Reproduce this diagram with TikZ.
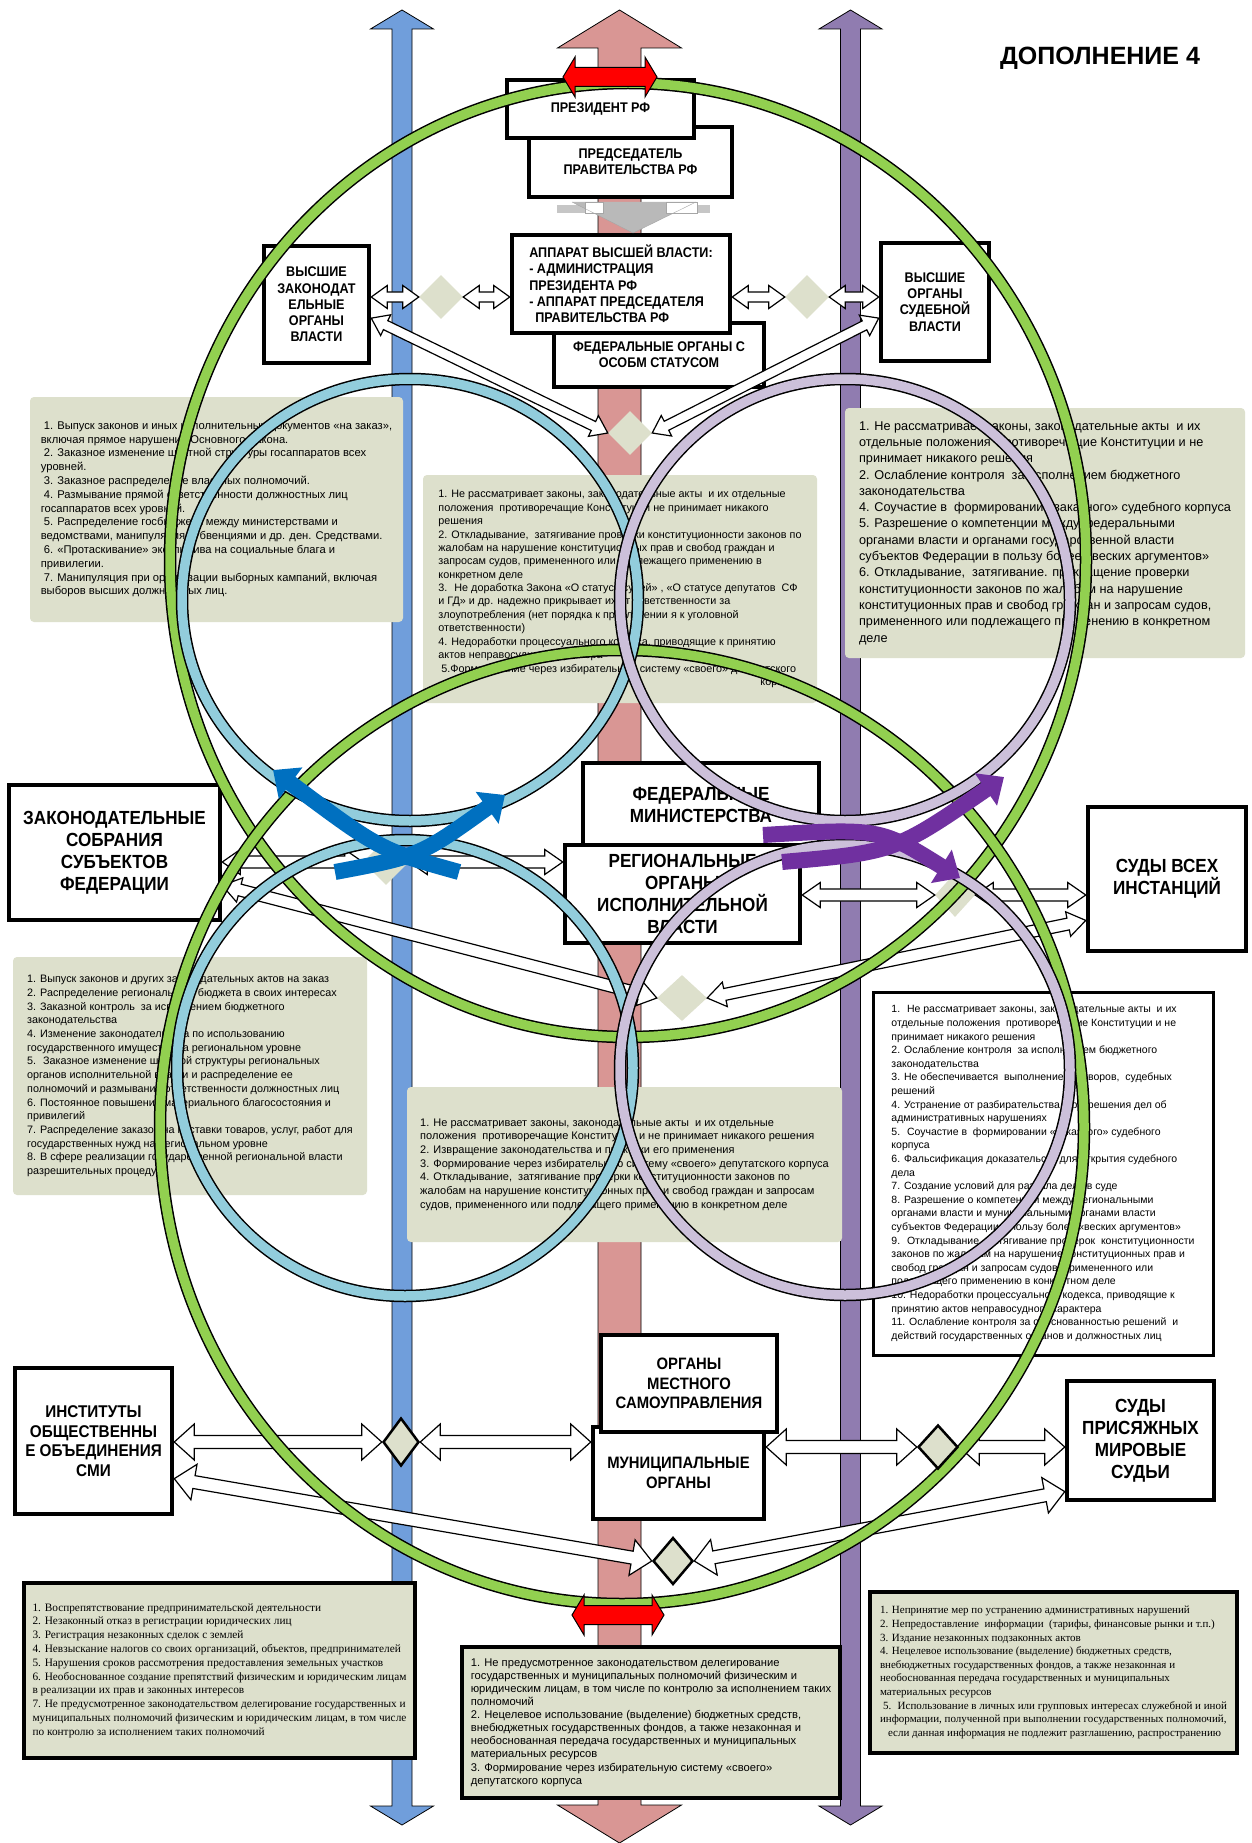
\documentclass[tikz,border=0pt]{standalone}
\usepackage{fontspec}
\setmainfont{Liberation Sans}
\newfontfamily\narrowfont[FakeStretch=0.9]{Liberation Sans}
\newfontfamily\timesfont{Liberation Serif}
\usepackage{xcolor}
\usepackage{tikz}
\usetikzlibrary{shapes, calc, arrows.meta}

\definecolor{shaftblue}{RGB}{112,158,219}
\definecolor{shaftpink}{RGB}{217,150,148}
\definecolor{shaftviolet}{RGB}{144,124,176}
\definecolor{ringgreen}{RGB}{146,208,80}
\definecolor{ringblue}{RGB}{146,205,220}
\definecolor{ringlav}{RGB}{204,192,218}
\definecolor{boxgreen}{RGB}{221,224,204}
\definecolor{bentblue}{RGB}{0,112,192}
\definecolor{bentviolet}{RGB}{112,48,160}

\pgfdeclarelayer{back}
\pgfdeclarelayer{rings}
\pgfdeclarelayer{front}
\pgfsetlayers{back,main,rings,front}

\newcommand\dblarrow[6]{%
        \coordinate (dbS) at (#2);
        \coordinate (dbE) at (#3);
        \coordinate (dbA) at ($(dbS)!#4!(dbE)$);
        \coordinate (dbB) at ($(dbE)!#4!(dbS)$);
        \draw[#1] (dbS) -- ($(dbA)!#6!90:(dbE)$) -- ($(dbA)!#5!90:(dbE)$)
        -- ($(dbB)!#5!-90:(dbS)$) -- ($(dbB)!#6!-90:(dbS)$) -- (dbE)
        -- ($(dbB)!#6!90:(dbS)$) -- ($(dbB)!#5!90:(dbS)$)
        -- ($(dbA)!#5!-90:(dbE)$) -- ($(dbA)!#6!-90:(dbE)$) -- cycle;}

\newcommand\drawring[4]{%
        \draw[line width=12.5pt] #2 ellipse [x radius=#3pt, y radius=#4pt];
        \draw[#1, line width=9.5pt] #2 ellipse [x radius=#3pt, y radius=#4pt];}

\begin{document}
\begin{tikzpicture}[x=1pt, y=-1pt,
        lbl/.style={draw, line width=4.5pt, fill=white, align=center, inner sep=0pt, font=\narrowfont\bfseries\fontsize{14}{16.3}\selectfont},
        midlbl/.style={lbl, font=\narrowfont\bfseries\fontsize{16.5}{19.3}\selectfont},
        biglbl/.style={lbl, font=\narrowfont\bfseries\fontsize{19}{22}\selectfont},
        infobox/.style={fill=boxgreen, rounded corners=4pt, align=left, inner sep=0pt},
        darkbox/.style={infobox, draw, line width=4.5pt, rounded corners=0pt},
        whitebox/.style={darkbox, fill=white, line width=3pt},
        pale/.style={diamond, fill=boxgreen, inner sep=0pt},
        palebold/.style={pale, draw, line width=2.5pt},
        hollow/.style={draw, fill=white, line width=1.2pt},
        shaft/.style={draw, line width=0.8pt},
        redarrow/.style={draw, fill=red, line width=1pt},
        bent/.style={line width=16pt, -{Triangle[length=22pt, width=38pt]}}]

        \begin{pgfonlayer}{back}
        \fill[white] (0, 0) rectangle (1251, 1843);
        \useasboundingbox (0, 0) rectangle (1251, 1843);
        \coordinate (bluetop) at (402, 10);
        \coordinate (bluebot) at (402, 1825);
        \coordinate (pinktop) at (619.5, 10);
        \coordinate (pinkbot) at (619.5, 1843);
        \coordinate (violtop) at (850.5, 10);
        \coordinate (violbot) at (850.5, 1825);
        \dblarrow{shaft, fill=shaftblue}{bluetop}{bluebot}{19pt}{10pt}{31.5pt}
        \dblarrow{shaft, fill=shaftpink}{pinktop}{pinkbot}{38pt}{21.5pt}{62pt}
        \dblarrow{shaft, fill=shaftviolet}{violtop}{violbot}{19pt}{10pt}{31.5pt}

        \node[infobox, minimum width=373pt, minimum height=225pt, font=\fontsize{11.2}{13.8}\selectfont] at (216.5, 509.5) (gov) {\hspace*{3pt}1. Выпуск законов и иных исполнительных документов «на заказ»,\\включая прямое нарушение Основного Закона.\\\hspace*{3pt}2. Заказное изменение штатной структуры госаппаратов всех\\уровней.\\\hspace*{3pt}3. Заказное распределение властных полномочий.\\\hspace*{3pt}4. Размывание прямой ответственности должностных лиц\\госаппаратов всех уровней.\\\hspace*{3pt}5. Распределение госбюджета между министерствами и\\ведомствами, манипуляция субвенциями и др. ден. Средствами.\\\hspace*{3pt}6. «Протаскивание» эксклюзива на социальные блага и\\привилегии.\\\hspace*{3pt}7. Манипуляция при организации выборных кампаний, включая\\выборов высших должностных лиц.};
        \node[infobox, minimum width=394pt, minimum height=228pt, font=\fontsize{10.8}{13.4}\selectfont] at (620, 589) (fed) {1. Не рассматривает законы, законодательные акты \ и их отдельные\\положения \ противоречащие Конституции не принимает никакого\\решения\\2. Откладывание, \ затягивание проверки конституционности законов по\\жалобам на нарушение конституционных прав и свобод граждан и\\запросам судов, примененного или подлежащего применению в\\конкретном деле\\3. \ Не доработка Закона «О статусе судей» , «О статусе депутатов \ СФ\\и ГД» и др. надежно прикрывает их от ответственности за\\злоупотребления (нет порядка к привлечении я к уголовной\\ответственности)\\4. Недоработки процессуального кодекса, приводящие к принятию\\актов неправосудного характера\\\hspace*{3pt}5.Формирование через избирательную систему «своего» депутатского\\\hspace*{322pt}корпуса};
        \node[infobox, minimum width=400pt, minimum height=250pt, font=\fontsize{12.7}{16.3}\selectfont] at (1045, 533) (court) {1. Не рассматривает законы, законодательные акты \ и их\\отдельные положения \ противоречащие Конституции и не\\принимает никакого решения\\2. Ослабление контроля \ за исполнением бюджетного\\законодательства\\4. Соучастие в \ формировании «заказного» судебного корпуса\\5. Разрешение о компетенции между федеральными\\органами власти и органами государственной власти\\субъектов Федерации в пользу более «веских аргументов»\\6. Откладывание, \ затягивание. прекращение проверки\\конституционности законов по жалобам на нарушение\\конституционных прав и свобод граждан и запросам судов,\\примененного или подлежащего применению в конкретном\\деле};
        \node[infobox, minimum width=354pt, minimum height=238pt, font=\fontsize{10.8}{13.7}\selectfont] at (190, 1076) (reg) {1. Выпуск законов и других законодательных актов на заказ\\2. Распределение регионального бюджета в своих интересах\\3. Заказной контроль \ за исполнением бюджетного\\законодательства\\4. Изменение законодательства по использованию\\государственного имущества на региональном уровне\\5. \ Заказное изменение штатной структуры региональных\\органов исполнительной власти и распределение ее\\полномочий и размывание ответственности должностных лиц\\6. Постоянное повышение материального благосостояния и\\привилегий\\7. Распределение заказов на поставки товаров, услуг, работ для\\государственных нужд на региональном уровне\\8. В сфере реализации государственной региональной власти\\разрешительных процедур};
        \node[infobox, minimum width=435pt, minimum height=155pt, font=\fontsize{11}{13.7}\selectfont] at (624.5, 1164.5) (regc) {1. Не рассматривает законы, законодательные акты \ и их отдельные\\положения \ противоречащие Конституции и не принимает никакого решения\\2. Извращение законодательства и практики его применения\\3. Формирование через избирательную систему «своего» депутатского корпуса\\4. Откладывание, \ затягивание проверки конституционности законов по\\жалобам на нарушение конституционных прав и свобод граждан и запросам\\судов, примененного или подлежащего применению в конкретном деле};
        \node[whitebox, minimum width=340pt, minimum height=363pt, font=\fontsize{10.5}{13.6}\selectfont] at (1043, 1173.5) (regcourt) {1. \ Не рассматривает законы, законодательные акты \ и их\\отдельные положения \ противоречащие Конституции и не\\принимает никакого решения\\2. Ослабление контроля \ за исполнением бюджетного\\законодательства\\3. Не обеспечивается \ выполнение договоров, \ судебных\\решений\\4. Устранение от разбирательства и разрешения дел об\\административных нарушениях\\5. \ Соучастие в \ формировании «заказного» судебного\\корпуса\\6. Фальсификация доказательств для открытия судебного\\дела\\7. Создание условий для развала дела в суде\\8. Разрешение о компетенции между региональными\\органами власти и муниципальными органами власти\\субъектов Федерации в пользу более «веских аргументов»\\9. \ Откладывание, \ затягивание проверок \ конституционности\\законов по жалобам на нарушение конституционных прав и\\свобод граждан и запросам судов, примененного или\\подлежащего применению в конкретном деле\\10. Недоработки процессуального кодекса, приводящие к\\принятию актов неправосудного характера\\11. Ослабление контроля за обоснованностью решений \ и\\действий государственных органов и должностных лиц};
        \node[darkbox, minimum width=391pt, minimum height=175pt, font=\timesfont\fontsize{11.3}{13.8}\selectfont] at (219.5, 1670.5) (loc) {1. Воспрепятствование предпринимательской деятельности\\2. Незаконный отказ в регистрации юридических лиц\\3. Регистрация незаконных сделок с землей\\4. Невзыскание налогов со своих организаций, объектов, предпринимателей\\5. Нарушения сроков рассмотрения предоставления земельных участков\\6. Необоснованное создание препятствий физическим и юридическим лицам\\в реализации их прав и законных интересов\\7. Не предусмотренное законодательством делегирование государственных и\\муниципальных полномочий физическим и юридическим лицам, в том числе\\по контролю за исполнением таких полномочий};
        \node[darkbox, minimum width=378pt, minimum height=151pt, font=\fontsize{11.2}{13.1}\selectfont] at (651, 1722.5) (locc) {1. Не предусмотренное законодательством делегирование\\государственных и муниципальных полномочий физическим и\\юридическим лицам, в том числе по контролю за исполнением таких\\полномочий\\2. Нецелевое использование (выделение) бюджетных средств,\\внебюджетных государственных фондов, а также незаконная и\\необоснованная передача государственных и муниципальных\\материальных ресурсов\\3. Формирование через избирательную систему «своего»\\депутатского корпуса};
        \node[darkbox, minimum width=367pt, minimum height=161pt, font=\timesfont\fontsize{11}{13.6}\selectfont] at (1053.5, 1672.5) (loccourt) {1. Непринятие мер по устранению административных нарушений\\2. Непредоставление \ информации \ (тарифы, финансовые рынки и т.п.)\\3. Издание незаконных подзаконных актов\\4. Нецелевое использование (выделение) бюджетных средств,\\внебюджетных государственных фондов, а также незаконная и\\необоснованная передача государственных и муниципальных\\материальных ресурсов\\\hspace*{3pt}5. \ Использование в личных или групповых интересах служебной и иной\\информации, полученной при выполнении государственных полномочий,\\\hspace*{8pt}если данная информация не подлежит разглашению, распространению};
        \end{pgfonlayer}

        \node[font=\bfseries\fontsize{25}{30}\selectfont] at (1100, 58) (title) {ДОПОЛНЕНИЕ 4};

        \node[lbl, minimum width=203pt, minimum height=70pt] at (630.5, 162) (chair) {ПРЕДСЕДАТЕЛЬ\\ПРАВИТЕЛЬСТВА РФ};
        \node[lbl, minimum width=187pt, minimum height=58pt] at (600.5, 109) (pres) {ПРЕЗИДЕНТ РФ};
        \node[lbl, minimum width=210pt, minimum height=64pt] at (659, 355) (fedspec) {ФЕДЕРАЛЬНЫЕ ОРГАНЫ С\\ОСОБМ СТАТУСОМ};
        \node[lbl, align=left, minimum width=218pt, minimum height=98pt] at (621, 284) (appar) {АППАРАТ ВЫСШЕЙ ВЛАСТИ:\\- АДМИНИСТРАЦИЯ\\ПРЕЗИДЕНТА РФ\\- АППАРАТ ПРЕДСЕДАТЕЛЯ\\\hspace*{6pt}ПРАВИТЕЛЬСТВА РФ};
        \node[lbl, minimum width=105pt, minimum height=117pt] at (316.5, 304.5) (highleg) {ВЫСШИЕ\\ЗАКОНОДАТ\\ЕЛЬНЫЕ\\ОРГАНЫ\\ВЛАСТИ};
        \node[lbl, minimum width=108pt, minimum height=118pt] at (935, 302) (highjud) {ВЫСШИЕ\\ОРГАНЫ\\СУДЕБНОЙ\\ВЛАСТИ};

        \node[biglbl, minimum width=211pt, minimum height=135pt] at (114.5, 852.5) (zaksob) {ЗАКОНОДАТЕЛЬНЫЕ\\СОБРАНИЯ\\СУБЪЕКТОВ\\ФЕДЕРАЦИИ};
        \node[biglbl, minimum width=236pt, minimum height=84pt] at (701, 805) (fedmin) {ФЕДЕРАЛЬНЫЕ\\МИНИСТЕРСТВА};
        \node[biglbl, minimum width=235pt, minimum height=98pt] at (682.5, 894) (regorg) {РЕГИОНАЛЬНЫЕ\\ОРГАНЫ\\ИСПОЛНИТЕЛЬНОЙ\\ВЛАСТИ};
        \node[biglbl, minimum width=158pt, minimum height=144pt] at (1167, 879) (sudy) {СУДЫ ВСЕХ\\ИНСТАНЦИЙ};

        \node[midlbl, font=\narrowfont\bfseries\fontsize{17}{19.7}\selectfont, minimum width=157pt, minimum height=146pt] at (93.5, 1441) (instit) {ИНСТИТУТЫ\\ОБЩЕСТВЕННЫ\\Е ОБЪЕДИНЕНИЯ\\СМИ};
        \node[midlbl, minimum width=171pt, minimum height=92pt] at (678.5, 1473) (munic) {МУНИЦИПАЛЬНЫЕ\\ОРГАНЫ};
        \node[midlbl, minimum width=176pt, minimum height=97pt] at (689, 1383.5) (mestn) {ОРГАНЫ\\МЕСТНОГО\\САМОУПРАВЛЕНИЯ};
        \node[biglbl, minimum width=147pt, minimum height=119pt] at (1140.5, 1440.5) (prisyazh) {СУДЫ\\ПРИСЯЖНЫХ\\МИРОВЫЕ\\СУДЬИ};

        \fill[gray!45] (557, 205) rectangle (710, 213);
        \fill[gray!55] (572, 202) -- (696, 202) -- (633, 233) -- cycle;
        \draw[gray!70, fill=white] (585, 202) rectangle (603, 213);
        \draw[gray!70, fill=white] (666, 202) rectangle (697, 213);
        \draw[gray!70] (572, 202) -- (633, 233) -- (696, 202);

        \node[pale, minimum width=44pt, minimum height=44pt] at (441, 297) (dl) {};
        \node[pale, minimum width=44pt, minimum height=44pt] at (807, 297) (dr) {};
        \node[pale, minimum width=44pt, minimum height=44pt] at (630, 433) (dc) {};
        \node[pale, minimum width=46pt, minimum height=46pt] at (386, 862) (dm) {};
        \node[pale, minimum width=40pt, minimum height=44pt] at (955, 895) (dmr) {};
        \node[pale, minimum width=50pt, minimum height=46pt] at (682, 998) (dmc) {};

        \begin{pgfonlayer}{front}
        \node[palebold, minimum width=36pt, minimum height=48pt] at (401, 1442) (dl2) {};
        \node[palebold, minimum width=40pt, minimum height=44pt] at (938, 1447) (dr2) {};
        \node[palebold, minimum width=40pt, minimum height=47pt] at (673, 1561) (dc2) {};
        \end{pgfonlayer}

        \dblarrow{hollow}{highleg.east |- dl}{dl.west}{16pt}{5pt}{11.5pt}
        \dblarrow{hollow}{dl.east}{appar.west |- dl}{16pt}{5pt}{11.5pt}
        \dblarrow{hollow}{appar.east |- dr}{dr.west}{16pt}{5pt}{11.5pt}
        \dblarrow{hollow}{dr.east}{highjud.west |- dr}{16pt}{5pt}{11.5pt}
        \dblarrow{hollow}{highleg.-14}{dc.west}{16pt}{5pt}{11.5pt}
        \dblarrow{hollow}{highjud.-164}{dc.east}{16pt}{5pt}{11.5pt}

        \dblarrow{hollow}{zaksob.east |- dm}{dm.west}{18pt}{6pt}{12.5pt}
        \dblarrow{hollow}{dm.east}{regorg.west |- dm}{18pt}{6pt}{12.5pt}
        \dblarrow{hollow}{zaksob.-17}{dmc.west}{18pt}{6pt}{12.5pt}
        \dblarrow{hollow}{regorg.east |- dmr}{dmr.west}{18pt}{6pt}{12.5pt}
        \dblarrow{hollow}{dmr.east}{sudy.west |- dmr}{18pt}{6pt}{12.5pt}
        \dblarrow{hollow}{sudy.-153}{dmc.east}{18pt}{6pt}{12.5pt}

        \dblarrow{hollow}{instit.east |- dl2}{dl2.west}{20pt}{6.5pt}{18pt}
        \dblarrow{hollow}{dl2.east}{munic.west |- dl2}{20pt}{6.5pt}{18pt}
        \dblarrow{hollow}{munic.east |- dr2}{dr2.west}{20pt}{6.5pt}{18pt}
        \dblarrow{hollow}{dr2.east}{prisyazh.west |- dr2}{20pt}{6.5pt}{18pt}
        \dblarrow{hollow}{instit.-25}{dc2.west}{20pt}{6.5pt}{18pt}
        \dblarrow{hollow}{prisyazh.-146}{dc2.east}{20pt}{6.5pt}{18pt}

        \begin{pgfonlayer}{rings}
        \drawring{ringgreen}{(628, 560)}{458}{477}
        \drawring{ringgreen}{(622, 1127)}{462}{477}
        \drawring{ringblue}{(410, 600)}{228}{221}
        \drawring{ringlav}{(845, 600)}{225}{221}
        \drawring{ringblue}{(405, 1068)}{228}{228}
        \drawring{ringlav}{(845, 1070)}{225}{225}
        \end{pgfonlayer}

        \begin{pgfonlayer}{front}
        \coordinate (bluetailA) at (459, 872);
        \coordinate (blueheadA) at (273, 770);
        \coordinate (bluetailB) at (335, 872);
        \coordinate (blueheadB) at (505, 795);
        \coordinate (violtailA) at (763, 835);
        \coordinate (violheadA) at (960, 878);
        \coordinate (violtailB) at (782, 862);
        \coordinate (violheadB) at (1004, 777);
        \draw[bent, bentblue] (bluetailA) .. controls (380, 850) .. (blueheadA);
        \draw[bent, bentblue] (bluetailB) .. controls (420, 856) .. (blueheadB);
        \draw[bent, bentviolet] (violtailA) .. controls (880, 828) .. (violheadA);
        \draw[bent, bentviolet] (violtailB) .. controls (895, 852) .. (violheadB);

        \coordinate (redtl) at (563, 77);
        \coordinate (redtr) at (657, 77);
        \coordinate (redbl) at (572, 1615);
        \coordinate (redbr) at (664, 1615);
        \dblarrow{redarrow}{redtl}{redtr}{12pt}{9.5pt}{20pt}
        \dblarrow{redarrow}{redbl}{redbr}{12pt}{9.5pt}{20pt}
        \end{pgfonlayer}
\end{tikzpicture}
\end{document}
